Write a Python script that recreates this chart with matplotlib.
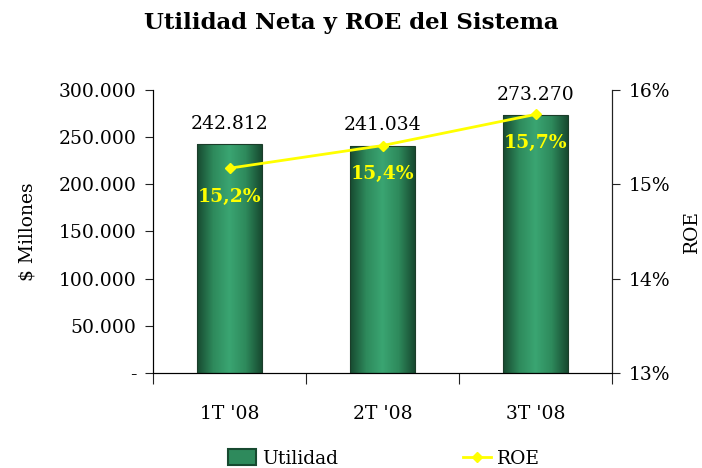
import numpy as np
import matplotlib
matplotlib.use("Agg")
import matplotlib.pyplot as plt
from matplotlib.lines import Line2D
from matplotlib.patches import Rectangle
from matplotlib.legend_handler import HandlerBase
from matplotlib.colors import LinearSegmentedColormap

# data
periodos = ["1T '08", "2T '08", "3T '08"]
utilidad = [242812, 241034, 273270]
roe = [15.17, 15.41, 15.74]
roe_labels = ["15,2%", "15,4%", "15,7%"]
y_ticks = [0, 50000, 100000, 150000, 200000, 250000, 300000]
roe_ticks = [13, 14, 15, 16]

plt.rcParams['font.family'] = ['DejaVu Serif']
fs = 13.5

green = LinearSegmentedColormap.from_list('g', ['#174a30', '#2e8a5c', '#3aa572', '#2e8a5c', '#174a30'])

fig = plt.figure(figsize=(7.02, 4.68), dpi=100)
ax = fig.add_axes([0.218, 0.203, 0.654, 0.605])
x = np.arange(len(periodos))
bars = ax.bar(x, utilidad, width=0.42, color='none', edgecolor='#1b3d2a', linewidth=0.8, zorder=3)

# gradient fill of bars
grad = np.linspace(0, 1, 200).reshape(1, -1)
for b in bars:
    bx, by = b.get_x(), b.get_y()
    im = ax.imshow(grad, cmap=green, aspect='auto', zorder=2,
                   extent=[bx, bx + b.get_width(), by, by + b.get_height()])
    im.set_clip_path(b)

for xi, v in zip(x, utilidad):
    ax.text(xi, v + 12000, f"{v:,}".replace(",", "."), ha='center', va='bottom', fontsize=fs)

ax.set_xlim(-0.5, 2.5)
ax.set_ylim(0, 300000)
ax.set_yticks(y_ticks)
ax.set_yticklabels(["-" if t == 0 else f"{t:,}".replace(",", ".") for t in y_ticks], fontsize=fs)
ax.set_xticks([-0.5, 0.5, 1.5, 2.5])
ax.set_xticklabels([])
ax.set_xticks(x, minor=True)
ax.set_xticklabels(periodos, minor=True, fontsize=fs)
ax.tick_params(axis='x', which='minor', length=0, pad=23)
ax.tick_params(axis='x', which='major', length=8, direction='out', color='#222222')
ax.tick_params(axis='y', length=6, direction='out', color='#222222', pad=6)
ax.set_ylabel("$ Millones", fontsize=fs, labelpad=16)
ax.spines['top'].set_visible(False)
for s in ['left', 'bottom', 'right']:
    ax.spines[s].set_color('#222222')

ax2 = ax.twinx()
ax2.set_ylim(13, 16)
ax2.set_yticks(roe_ticks)
ax2.set_yticklabels([f"{t}%" for t in roe_ticks], fontsize=fs)
ax2.tick_params(axis='y', length=6, direction='out', color='#222222', pad=6)
ax2.spines['top'].set_visible(False)
ax2.spines['right'].set_color('#222222')
ax2.set_ylabel("ROE", fontsize=fs, labelpad=9)
ax2.plot(x, roe, color='#ffff00', lw=2, marker='D', ms=5.5, zorder=5)
for xi, r, lab in zip(x, roe, roe_labels):
    ax2.text(xi, r - 0.21, lab, ha='center', va='top', color='#ffff00',
             fontsize=13.5, fontweight='bold')

fig.suptitle("Utilidad Neta y ROE del Sistema", fontsize=16.5, fontweight='bold', y=0.975)


class GradHandler(HandlerBase):
    def create_artists(self, legend, orig, xd, yd, w, h, fontsize, trans):
        r = Rectangle((xd, yd - 1), w, h + 2, facecolor='#2e8a5c',
                      edgecolor='#174a30', lw=1.5, transform=trans)
        return [r]


leg_bar = Rectangle((0, 0), 1, 1)
leg_line = Line2D([], [], color='#ffff00', lw=2, marker='D', ms=5)
fig.legend([leg_bar, leg_line], ["Utilidad", "ROE"], loc='lower center',
           bbox_to_anchor=(0.547, -0.035), ncol=2, frameon=False, fontsize=fs,
           handler_map={Rectangle: GradHandler()}, columnspacing=6.7, handlelength=1.5,
           handletextpad=0.3)

fig.savefig("out.png", dpi=100)
